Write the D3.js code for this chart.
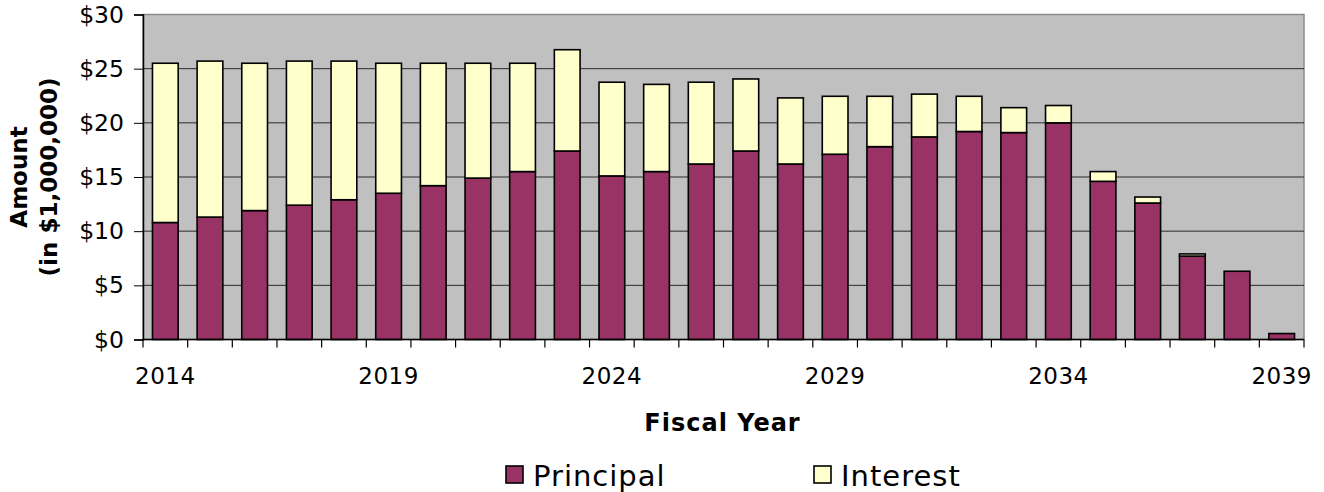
<!DOCTYPE html>
<html>
<head>
<meta charset="utf-8">
<script src="https://cdn.jsdelivr.net/npm/d3@7/dist/d3.min.js"></script>
<style>
  body { margin: 0; background: #fff; }
  text { font-family: "DejaVu Sans", Verdana, sans-serif; fill: #000; }
</style>
</head>
<body>
<div id="chart"></div>
<script>
// fiscal years 2014..2039
const years = ['2014','2015','2016','2017','2018','2019','2020','2021','2022','2023',
               '2024','2025','2026','2027','2028','2029','2030','2031','2032','2033',
               '2034','2035','2036','2037','2038','2039'];
// principal, $ millions
const principal = [10.8, 11.3, 11.9, 12.4, 12.9, 13.5, 14.2, 14.9, 15.5, 17.4,
                   15.1, 15.5, 16.2, 17.4, 16.2, 17.1, 17.8, 18.7, 19.2, 19.1,
                   20.0, 14.6, 12.6, 7.7, 6.3, 0.55];
// interest, $ millions
const interest = [14.7, 14.4, 13.6, 13.3, 12.8, 12.0, 11.3, 10.6, 10.0, 9.35,
                  8.65, 8.05, 7.55, 6.65, 6.1, 5.35, 4.65, 3.95, 3.25, 2.3,
                  1.6, 0.9, 0.55, 0.2, 0, 0];
const yTicks = [0, 5, 10, 15, 20, 25, 30];
const labelYears = ['2014','2019','2024','2029','2034','2039'];
const seriesNames = ['Principal', 'Interest'];
const seriesColors = ['#993366', '#FFFFCC'];

const W = 1324, H = 492;
const plotL = 143, plotR = 1304, plotT = 14.5, plotB = 339.5;

const svg = d3.select('#chart').append('svg').attr('width', W).attr('height', H);

const x = d3.scaleBand().domain(years).range([plotL, plotR])
    .paddingInner(0.424).paddingOuter(0.212);
const y = d3.scaleLinear().domain([0, 30]).range([plotB, plotT]);

// plot background
svg.append('rect')
    .attr('x', plotL).attr('y', plotT)
    .attr('width', plotR - plotL).attr('height', plotB - plotT)
    .attr('fill', '#C0C0C0').attr('stroke', '#8c8c8c').attr('stroke-width', 1.5);

// gridlines
svg.append('g').selectAll('line')
  .data(yTicks.filter(d => d > 0 && d < 30))
  .join('line')
    .attr('x1', plotL).attr('x2', plotR)
    .attr('y1', d => y(d)).attr('y2', d => y(d))
    .attr('stroke', '#2a2a2a').attr('stroke-width', 1);

// stacked bars
const rows = years.map((yr, i) => ({year: yr, Principal: principal[i], Interest: interest[i]}));
const stack = d3.stack().keys(seriesNames)(rows);

svg.append('g').selectAll('g')
  .data(stack)
  .join('g')
    .attr('fill', (d, i) => seriesColors[i])
  .selectAll('rect')
  .data(d => d.filter(p => p[1] - p[0] > 0))
  .join('rect')
    .attr('x', d => x(d.data.year))
    .attr('width', x.bandwidth())
    .attr('y', d => y(d[1]))
    .attr('height', d => y(d[0]) - y(d[1]))
    .attr('stroke', '#000').attr('stroke-width', 1.6);

// y axis
const yAxis = svg.append('g')
    .attr('transform', `translate(${plotL},0)`)
    .call(d3.axisLeft(y).tickValues(yTicks).tickSize(9).tickPadding(10)
      .tickFormat(d => '$' + d));
yAxis.select('.domain').attr('stroke', '#000').attr('stroke-width', 1.5);
yAxis.selectAll('.tick line').attr('stroke', '#000');
yAxis.selectAll('text').style('font-size', '23.5px').attr('fill', '#000');

// x axis: ticks between categories, labels every 5 years
const step = x.step();
const bounds = d3.range(years.length + 1).map(i => plotL + i * step);
svg.append('line')
    .attr('x1', plotL).attr('x2', plotR).attr('y1', plotB).attr('y2', plotB)
    .attr('stroke', '#000').attr('stroke-width', 1.5);
svg.append('g').selectAll('line')
  .data(bounds)
  .join('line')
    .attr('x1', d => d).attr('x2', d => d)
    .attr('y1', plotB).attr('y2', plotB + 8)
    .attr('stroke', '#000').attr('stroke-width', 1.2);

const xAxis = svg.append('g')
    .attr('transform', `translate(0,${plotB})`)
    .call(d3.axisBottom(x).tickValues(labelYears).tickSize(0).tickPadding(28));
xAxis.select('.domain').remove();
xAxis.selectAll('text').style('font-size', '23px').style('letter-spacing', '0.5px').attr('fill', '#000');

// axis titles
svg.append('text')
    .attr('x', (plotL + plotR) / 2 - 1).attr('y', 431)
    .attr('text-anchor', 'middle')
    .style('font-size', '24px').style('font-weight', 'bold').style('letter-spacing', '1px')
    .text('Fiscal Year');

const yt = svg.append('text')
    .attr('transform', `translate(0,${(plotT + plotB) / 2}) rotate(-90)`)
    .attr('text-anchor', 'middle')
    .style('font-size', '23px').style('font-weight', 'bold');
yt.append('tspan').attr('x', 0).attr('y', 27).text('Amount');
yt.append('tspan').attr('x', 0).attr('y', 57).text('(in $1,000,000)');

// legend
const legX = [506, 814];
const leg = svg.append('g').selectAll('g')
  .data(seriesNames)
  .join('g')
    .attr('transform', (d, i) => `translate(${legX[i]},466)`);
leg.append('rect')
    .attr('width', 17).attr('height', 17)
    .attr('fill', (d, i) => seriesColors[i])
    .attr('stroke', '#000').attr('stroke-width', 1.6);
leg.append('text')
    .attr('x', 27).attr('y', 20)
    .style('font-size', '29px').style('letter-spacing', '1px')
    .text(d => d);
</script>
</body>
</html>
